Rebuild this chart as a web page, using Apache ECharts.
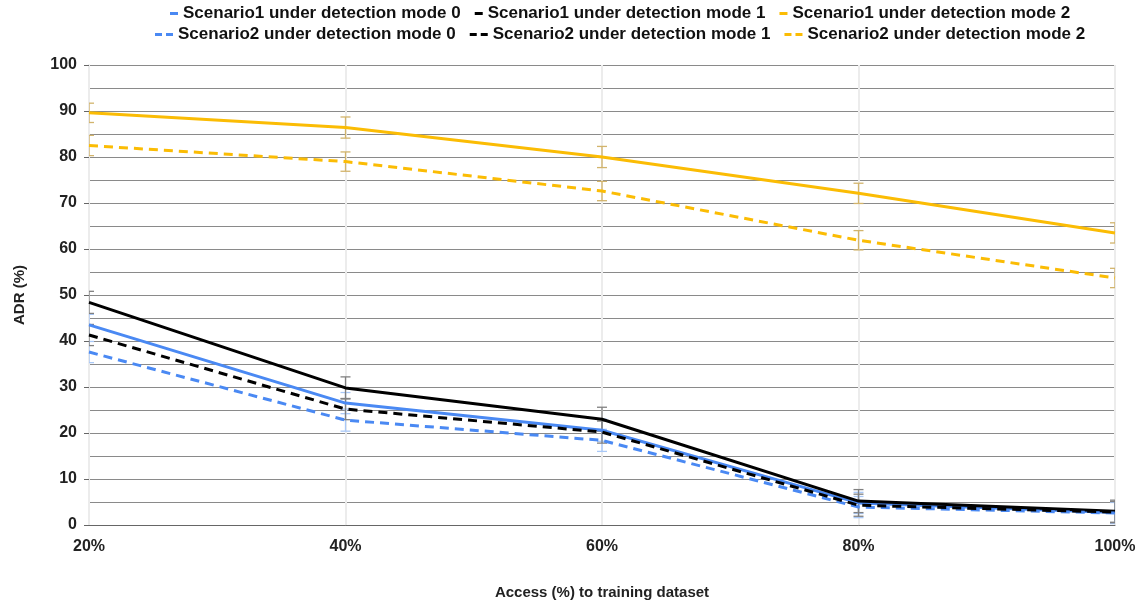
<!DOCTYPE html>
<html>
<head>
<meta charset="utf-8">
<script src="https://cdn.jsdelivr.net/npm/echarts@6/dist/echarts.min.js"></script>
<style>
  html, body { margin: 0; padding: 0; background: #fff; }
  #chart { width: 1141px; height: 602px; }
</style>
</head>
<body>
<div id="chart"></div>
<script>
// Access share of the training dataset (x axis)
const categories = ['20%', '40%', '60%', '80%', '100%'];

// ADR (%) per scenario and detection mode
const s1m0 = [43.5, 26.5, 20.6, 4.8, 2.7];
const s1m1 = [48.4, 29.8, 23.0, 5.2, 3.0];
const s1m2 = [89.6, 86.4, 80.0, 72.1, 63.5];
const s2m0 = [37.6, 22.8, 18.4, 3.9, 2.6];
const s2m1 = [41.3, 25.2, 20.2, 4.3, 2.8];
const s2m2 = [82.5, 79.0, 72.6, 61.9, 53.7];

// Half-width of each error bar
const e1m0 = [2.3, 2.3, 2.4, 2.3, 2.3];
const e1m1 = [2.4, 2.4, 2.6, 2.5, 2.4];
const e1m2 = [2.1, 2.3, 2.3, 2.2, 2.2];
const e2m0 = [2.3, 2.4, 2.4, 2.3, 2.3];
const e2m1 = [2.3, 2.3, 2.4, 2.4, 2.3];
const e2m2 = [2.2, 2.1, 2.1, 2.1, 2.1];

const names = [
  'Scenario1 under detection mode 0',
  'Scenario1 under detection mode 1',
  'Scenario1 under detection mode 2',
  'Scenario2 under detection mode 0',
  'Scenario2 under detection mode 1',
  'Scenario2 under detection mode 2'
];

const BLUE = '#4a89f3';
const BLACK = '#000000';
const YELLOW = '#fbbc04';

const lineDefs = [
  { name: names[0], data: s1m0, err: e1m0, color: BLUE, dashed: false, errColor: '#a9c8f7' },
  { name: names[1], data: s1m1, err: e1m1, color: BLACK, dashed: false, errColor: '#808080' },
  { name: names[2], data: s1m2, err: e1m2, color: YELLOW, dashed: false, errColor: '#d2b46c' },
  { name: names[3], data: s2m0, err: e2m0, color: BLUE, dashed: true, errColor: '#a9c8f7' },
  { name: names[4], data: s2m1, err: e2m1, color: BLACK, dashed: true, errColor: '#808080' },
  { name: names[5], data: s2m2, err: e2m2, color: YELLOW, dashed: true, errColor: '#d2b46c' }
];

const lineSeries = lineDefs.map(def => ({
  type: 'line',
  name: def.name,
  data: def.data,
  symbol: 'none',
  z: 3,
  color: def.color,
  lineStyle: { color: def.color, width: 3, type: def.dashed ? [9, 6] : 'solid' },
  itemStyle: { color: def.color }
}));

// Error bars share the series name so they toggle with the legend
function errorBarSeries(def) {
  return {
    type: 'custom',
    name: def.name,
    clip: true,
    z: 2,
    silent: true,
    color: def.color,
    itemStyle: { color: def.color },
    data: def.data.map((v, i) => [i, v - def.err[i], v + def.err[i]]),
    renderItem: function (params, api) {
      const x = api.value(0);
      const lo = api.coord([x, api.value(1)]);
      const hi = api.coord([x, api.value(2)]);
      const half = 5;
      const style = { stroke: def.errColor, lineWidth: 1.3, fill: 'none' };
      return {
        type: 'group',
        children: [
          { type: 'line', shape: { x1: lo[0], y1: lo[1], x2: hi[0], y2: hi[1] }, style: style },
          { type: 'line', shape: { x1: lo[0] - half, y1: lo[1], x2: lo[0] + half, y2: lo[1] }, style: style },
          { type: 'line', shape: { x1: hi[0] - half, y1: hi[1], x2: hi[0] + half, y2: hi[1] }, style: style }
        ]
      };
    }
  };
}

const SOLID_ICON = 'path://M0,0H8V3H0Z';
const DASH_ICON = 'path://M0,0H7V3H0ZM11,0H18V3H11Z';
const legendText = { fontFamily: 'Liberation Sans, Arial, sans-serif', fontWeight: 'bold', fontSize: 17, color: '#111' };

const chart = echarts.init(document.getElementById('chart'), null, { renderer: 'canvas' });
chart.setOption({
  backgroundColor: '#ffffff',
  animation: false,
  textStyle: { fontFamily: 'Liberation Sans, Arial, sans-serif' },
  legend: [
    {
      top: 0, left: 165, itemWidth: 8, itemHeight: 3, itemGap: 14,
      textStyle: legendText,
      data: names.slice(0, 3).map((n, i) => ({ name: n, icon: SOLID_ICON, itemStyle: { color: lineDefs[i].color } }))
    },
    {
      top: 21, left: 150, itemWidth: 18, itemHeight: 3, itemGap: 14,
      textStyle: legendText,
      data: names.slice(3).map((n, i) => ({ name: n, icon: DASH_ICON, itemStyle: { color: lineDefs[i + 3].color } }))
    }
  ],
  grid: { left: 89, right: 26, top: 65, bottom: 77, containLabel: false, outerBoundsMode: 'none' },
  xAxis: {
    type: 'category',
    data: categories,
    boundaryGap: false,
    name: 'Access (%) to training dataset',
    nameLocation: 'middle',
    nameGap: 60,
    nameTextStyle: { fontWeight: 'bold', fontSize: 15, color: '#222' },
    axisLine: { show: true, lineStyle: { color: '#666', width: 1 } },
    axisTick: { show: false },
    axisLabel: { fontWeight: 'bold', fontSize: 16, color: '#222', margin: 14 },
    splitLine: { show: true, lineStyle: { color: '#ececec', width: 2 } }
  },
  yAxis: {
    type: 'value',
    min: 0,
    max: 100,
    interval: 10,
    name: 'ADR (%)',
    nameLocation: 'middle',
    nameGap: 62,
    nameTextStyle: { fontWeight: 'bold', fontSize: 15, color: '#222' },
    axisLine: { show: true, lineStyle: { color: '#ececec', width: 2 } },
    axisTick: { show: true, inside: false, length: 5, lineStyle: { color: '#666' } },
    axisLabel: { fontWeight: 'bold', fontSize: 16, color: '#222', margin: 12 },
    splitLine: { show: true, lineStyle: { color: '#8a8a8a', width: 1 } },
    minorTick: { show: false, splitNumber: 2 },
    minorSplitLine: { show: true, lineStyle: { color: '#8a8a8a', width: 1 } }
  },
  series: lineSeries.concat(lineDefs.map(errorBarSeries))
});
</script>
</body>
</html>
